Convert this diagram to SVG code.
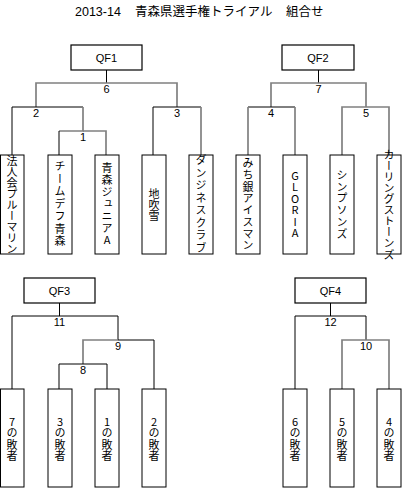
<svg xmlns="http://www.w3.org/2000/svg" width="406" height="488" viewBox="0 0 406 488">
<style>
.k{stroke:#000;stroke-width:1;fill:none}
.g{stroke:#808080;stroke-width:1.7;fill:none}
.box{fill:#fff;stroke:#000;stroke-width:1}
.qf{fill:#fff;stroke:#000;stroke-width:1.2}
.t{font-family:"Liberation Sans","Noto Sans CJK JP",sans-serif;fill:#000}
.n{font-family:"Liberation Sans",sans-serif;font-size:11px;text-anchor:middle;fill:#000}
.v{font-family:"Noto Sans CJK JP","Liberation Sans",sans-serif;font-size:11px;writing-mode:vertical-rl;text-orientation:upright;text-anchor:middle;fill:#000}
</style>
<rect width="406" height="488" fill="#fff"/>
<g id="title" class="t" font-size="12.5">
<text x="75" y="16">2013-14</text>
<text x="135" y="16">青森県選手権トライアル</text>
<text x="286" y="16">組合せ</text>
</g>
<g id="connectors">
<path class="k" d="M106.5 70V83"/>
<path class="g" d="M36 107V83H177V107"/>
<path class="k" d="M12 155V107H83"/>
<path class="g" d="M83 107V131H59"/>
<path class="k" d="M59 131V155"/>
<path class="g" d="M83 131H106V155"/>
<path class="k" d="M153 155V107H201"/>
<path class="g" d="M201 107V155"/>
<path class="k" d="M318.5 70V83"/>
<path class="g" d="M271 107V83H366V107"/>
<path class="k" d="M248 107H295"/>
<path class="g" d="M248 107V155M295 107V155"/>
<path class="g" d="M342 155V107H389V155"/>
<path class="k" d="M59.5 303V316"/>
<path class="k" d="M12 389V316H118V340"/>
<path class="g" d="M83 364V340H118"/>
<path class="k" d="M118 340H154V389"/>
<path class="k" d="M59 389V364H107V389"/>
<path class="k" d="M330.5 303V316"/>
<path class="k" d="M295 389V316H366V340"/>
<path class="g" d="M342 389V340H389V389"/>
</g>
<g class="n" id="match-labels">
<text x="106.5" y="93">6</text>
<text x="36" y="117">2</text>
<text x="83" y="141">1</text>
<text x="177" y="117">3</text>
<text x="318.5" y="93">7</text>
<text x="271" y="117">4</text>
<text x="366" y="117">5</text>
<text x="59.5" y="326">11</text>
<text x="118" y="350">9</text>
<text x="83" y="374">8</text>
<text x="330.5" y="326">12</text>
<text x="366" y="350">10</text>
</g>
<g id="qf1"><rect class="qf" x="71" y="45" width="71" height="25"/><text class="n" x="106.5" y="61.5">QF1</text></g>
<g id="qf2"><rect class="qf" x="282" y="45" width="72" height="25"/><text class="n" x="318" y="61.5">QF2</text></g>
<g id="qf3"><rect class="qf" x="24" y="278" width="71" height="25"/><text class="n" x="59.5" y="294.5">QF3</text></g>
<g id="qf4"><rect class="qf" x="295" y="278" width="71" height="25"/><text class="n" x="330.5" y="294.5">QF4</text></g>
<g id="team1"><rect class="box" x="0.5" y="155" width="23.5" height="99"/><text class="v" x="12" y="204.5">法人会プルーマリン</text></g>
<g id="team2"><rect class="box" x="48" y="155" width="24" height="99"/><text class="v" x="60" y="204.5" letter-spacing="1.5">チームデフ青森</text></g>
<g id="team3"><rect class="box" x="95" y="155" width="24" height="99"/><text class="v" x="107" y="204.5" letter-spacing="1">青森ジュニアA</text></g>
<g id="team4"><rect class="box" x="142" y="155" width="24" height="99"/><text class="v" x="154" y="204.5">地吹雪</text></g>
<g id="team5"><rect class="box" x="189" y="155" width="24" height="99"/><text class="v" x="201" y="204.5" letter-spacing="1.5">ダンジネスクラブ</text></g>
<g id="team6"><rect class="box" x="236" y="155" width="24" height="99"/><text class="v" x="248" y="204.5" letter-spacing="0.75">みち銀アイスマン</text></g>
<g id="team7"><rect class="box" x="283" y="155" width="24" height="99"/><text class="v" x="295" y="204.5" letter-spacing="0.4">GLORIA</text></g>
<g id="team8"><rect class="box" x="330" y="155" width="24" height="99"/><text class="v" x="342" y="204.5" letter-spacing="0.7">シンプソンズ</text></g>
<g id="team9"><rect class="box" x="377" y="155" width="24" height="99"/><text class="v" x="389" y="204.5" font-size="9" letter-spacing="0.1">カーリングストーンズ</text></g>
<g id="loser7"><rect class="box" x="0.5" y="389" width="23.5" height="98"/><text class="v" x="12" y="439" letter-spacing="0.3">7の敗者</text></g>
<g id="loser3"><rect class="box" x="48" y="389" width="24" height="98"/><text class="v" x="60" y="439" letter-spacing="0.3">3の敗者</text></g>
<g id="loser1"><rect class="box" x="95" y="389" width="24" height="98"/><text class="v" x="107" y="439" letter-spacing="0.3">1の敗者</text></g>
<g id="loser2"><rect class="box" x="142" y="389" width="24" height="98"/><text class="v" x="154" y="439" letter-spacing="0.3">2の敗者</text></g>
<g id="loser6"><rect class="box" x="283" y="389" width="24" height="98"/><text class="v" x="295" y="439" letter-spacing="0.3">6の敗者</text></g>
<g id="loser5"><rect class="box" x="330" y="389" width="24" height="98"/><text class="v" x="342" y="439" letter-spacing="0.3">5の敗者</text></g>
<g id="loser4"><rect class="box" x="377" y="389" width="24" height="98"/><text class="v" x="389" y="439" letter-spacing="0.3">4の敗者</text></g>
</svg>
